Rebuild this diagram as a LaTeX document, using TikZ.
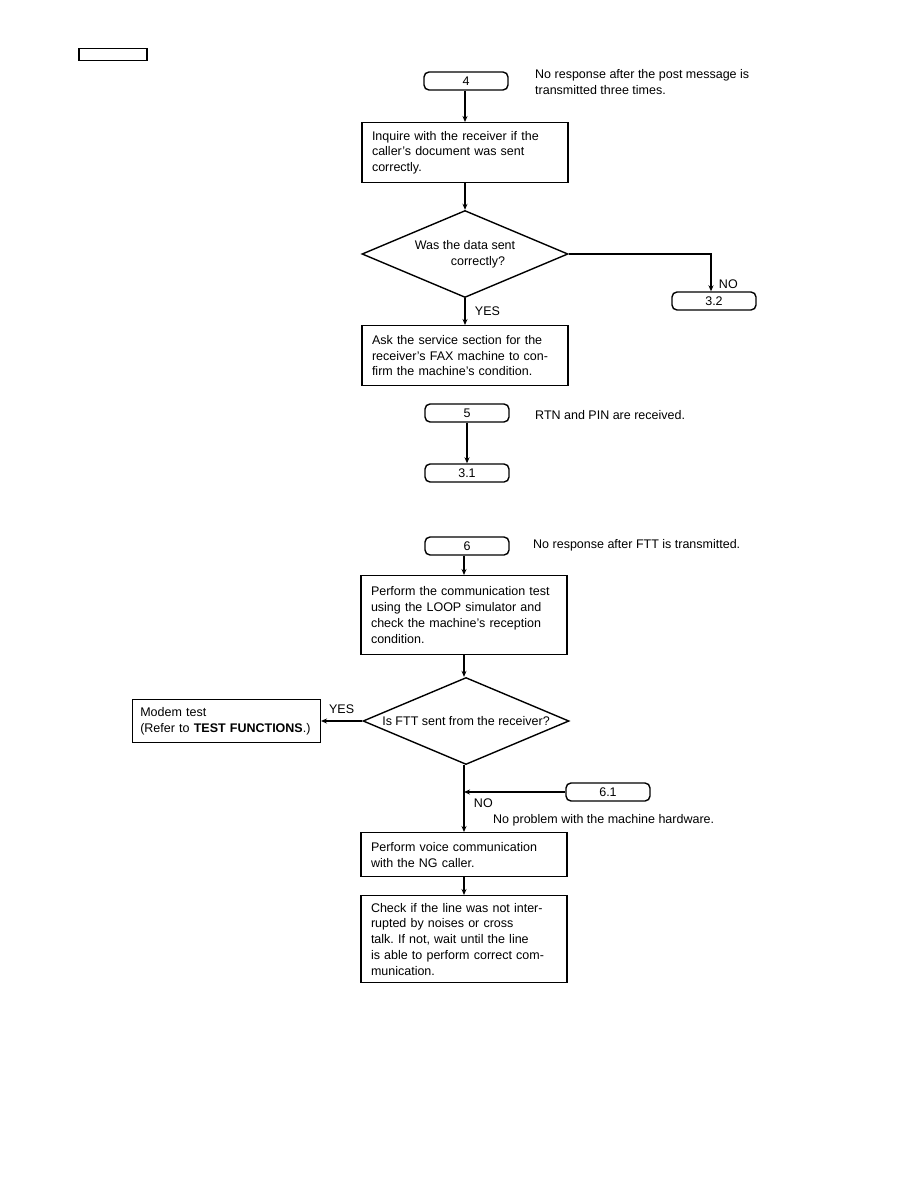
\documentclass[tikz,border=0pt]{standalone}
\usepackage{fontspec}
\setmainfont{Liberation Sans}
\usetikzlibrary{shapes.geometric,arrows.meta}
\frenchspacing

\tikzset{
  every node/.style={font=\fontsize{12.5}{15.8}\selectfont},
  terminal/.style={draw, line width=1.4pt, rounded corners=5pt, minimum width=84pt, minimum height=18pt, inner sep=0pt},
  procbox/.style={draw, line width=1.4pt, anchor=north, text width=186pt, inner xsep=10pt, align=left},
  decision/.style={draw, line width=1.4pt, diamond, minimum width=206pt, minimum height=87pt, inner sep=0pt},
  note/.style={align=left, inner sep=0pt},
  arr/.style={line width=1.3pt, -{Stealth[length=6pt,width=5pt]}}
}

\begin{document}
\begin{tikzpicture}[x=1pt, y=-1pt]

  \useasboundingbox (0,0) rectangle (918,1188);

  % kopfzeile
  \node[draw, line width=1.5pt, minimum width=68pt, minimum height=12pt, inner sep=0pt, anchor=north west] (hdr) at (78,48) {};

  % ablauf 4
  \node[terminal] (b4) at (466,81) {4};
  \node[note, anchor=north west] (n4) at (535,69) {No response after the post message is\\transmitted three times.};

  \node[procbox, minimum height=60pt] (inq) at (465,122) {Inquire with the receiver if the\\caller's document was sent\\correctly.};

  \node[decision] (q1) at (465,254) {};
  \node[note] (q1txt) at (q1) {Was the data sent\\\hspace*{36pt}correctly?};

  \node[terminal] (b32) at (714,301) {3.2};

  \node[procbox, minimum height=60pt] (ask) at (465,325) {Ask the service section for the\\receiver's FAX machine to con-\\firm the machine's condition.};

  \draw[arr] (b4.south -| inq.north) -- (inq);
  \draw[arr] (inq) -- (q1);
  \draw[arr] (q1.east) -| (b32.north -| 711,0) node[pos=0.9, right=4pt] (no1) {NO};
  \draw[arr] (q1.south) -- (ask) node[midway, right=6pt] (yes1) {YES};

  % ablauf 5
  \node[terminal] (b5) at (467,413) {5};
  \node[note, anchor=west] (n5) at (535,415) {RTN and PIN are received.};
  \node[terminal] (b31) at (467,473) {3.1};

  \draw[arr] (b5) -- (b31);

  % ablauf 6
  \node[terminal] (b6) at (467,546) {6};
  \node[note, anchor=west] (n6) at (533,545) {No response after FTT is transmitted.};

  \node[procbox, minimum height=79pt] (perf) at (464,575) {Perform the communication test\\using the LOOP simulator and\\check the machine's reception\\condition.};

  \node[decision] (q2) at (466,721) {};
  \node[note] (q2txt) at (q2) {Is FTT sent from the receiver?};

  \node[draw, line width=1.4pt, anchor=east, minimum width=188pt, minimum height=43pt, text width=172pt, inner xsep=8pt, align=left] (modem) at (321,721) {Modem test\\(Refer to \textbf{TEST FUNCTIONS}.)};

  \node[terminal] (b61) at (608,792) {6.1};
  \node[note, anchor=west] (n61) at (493,820) {No problem with the machine hardware.};

  \node[procbox, minimum height=44pt] (voice) at (464,832) {Perform voice communication\\with the NG caller.};

  \node[procbox, minimum height=87pt] (check) at (464,895) {Check if the line was not inter-\\rupted by noises or cross\\talk. If not, wait until the line\\is able to perform correct com-\\munication.};

  \draw[arr] (b6.south -| perf.north) -- (perf);
  \draw[arr] (perf.south) -- (perf.south |- q2.north);
  \draw[arr] (q2.west) -- (modem.east) node[midway, above=3pt] (yes2) {YES};
  \draw[arr] (perf.south |- q2.south) -- (voice) node[pos=0.57, right=6pt] (no2) {NO};
  \draw[arr] (b61.west) -- (b61.west -| voice.north);
  \draw[arr] (voice) -- (check);

\end{tikzpicture}
\end{document}
